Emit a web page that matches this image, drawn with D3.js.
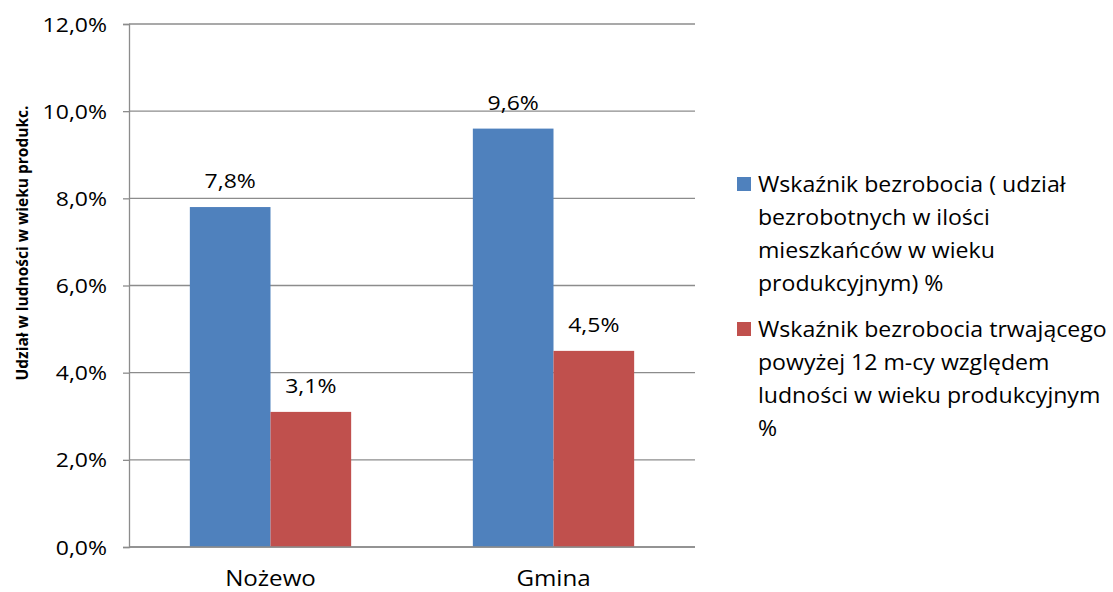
<!DOCTYPE html>
<html><head><meta charset="utf-8">
<script src="https://cdn.jsdelivr.net/npm/d3@7"></script>
<style>body{margin:0;background:#fff}svg{display:block}text{font-family:"Open Sans",sans-serif;fill:#000}</style>
</head><body>
<svg id="c" width="1113" height="592"></svg>
<script>
const categories = ["Nożewo", "Gmina"];
const seriesNames = [
  ["Wskaźnik bezrobocia ( udział", "bezrobotnych w ilości", "mieszkańców w wieku", "produkcyjnym) %"],
  ["Wskaźnik bezrobocia trwającego", "powyżej 12 m-cy względem", "ludności w wieku produkcyjnym", "%"]
];
const seriesA = [7.8, 9.6];
const seriesB = [3.1, 4.5];
const yTicks = [0, 2, 4, 6, 8, 10, 12];
const colors = ["#4f81bd", "#c0504d"];
const yTitle = "Udział w ludności w wieku produkc.";

const SX = 1.15; // horizontal stretch of the text in the reference
const svg = d3.select("#c");
const L = 129, R = 695, T = 24, B = 547;
const x = d3.scaleBand().domain(categories).range([L, R]).paddingInner(0.43).paddingOuter(0.215);
const xs = d3.scaleBand().domain([0, 1]).range([0, x.bandwidth()]);
const y = d3.scaleLinear().domain([0, 12]).range([B, T]);
const fmt = v => v.toFixed(1).replace(".", ",") + "%";
const place = (sel, fx, fy) => sel.attr("transform", (d, i) => `translate(${fx(d, i)},${fy(d, i)}) scale(${SX},1)`);

// gridlines
svg.append("g").selectAll("line").data(yTicks).join("line")
  .attr("x1", L).attr("x2", R).attr("y1", d => y(d)).attr("y2", d => y(d))
  .attr("stroke", "#8c8c8c").attr("stroke-width", 1.3);

// y axis
const yAxis = svg.append("g").attr("transform", `translate(${L},0)`)
  .call(d3.axisLeft(y).tickValues(yTicks).tickFormat(fmt).tickSize(6).tickPadding(16));
yAxis.select(".domain").attr("stroke", "#8c8c8c").attr("stroke-width", 1.3);
yAxis.selectAll(".tick line").attr("stroke", "#8c8c8c").attr("stroke-width", 1.3);
yAxis.selectAll(".tick text").attr("font-size", 20).attr("font-family", "'Open Sans', sans-serif")
  .attr("fill", "#000").attr("x", null).attr("dy", "0.35em")
  .attr("transform", `translate(-22,0) scale(${SX},1)`);

// bars
const data = categories.map((c, i) => ({c, vals: [seriesA[i], seriesB[i]]}));
const g = svg.append("g").selectAll("g").data(data).join("g")
  .attr("transform", d => `translate(${x(d.c)},0)`);
g.selectAll("rect").data(d => d.vals.map((v, k) => ({v, k}))).join("rect")
  .attr("x", d => xs(d.k)).attr("width", xs.bandwidth())
  .attr("y", d => y(d.v)).attr("height", d => y(0) - y(d.v))
  .attr("fill", d => colors[d.k]);
place(g.selectAll("text").data(d => d.vals.map((v, k) => ({v, k}))).join("text"),
    d => xs(d.k) + xs.bandwidth() / 2, d => y(d.v) - 19)
  .attr("text-anchor", "middle").attr("font-size", 20).text(d => fmt(d.v));

// x axis line over bars
svg.append("line").attr("x1", L).attr("x2", R).attr("y1", B).attr("y2", B)
  .attr("stroke", "#8c8c8c").attr("stroke-width", 1.3);

// category labels
place(svg.append("g").selectAll("text").data(categories).join("text"),
    d => x(d) + x.bandwidth() / 2, () => 586)
  .attr("text-anchor", "middle").attr("font-size", 21).text(d => d);

// y title
svg.append("text").attr("transform", "translate(28,243) rotate(-90)")
  .attr("text-anchor", "middle").attr("font-size", 15.5).attr("font-weight", "bold").text(yTitle);

// legend
const legTop = [192, 337];
const lg = svg.append("g").selectAll("g").data(seriesNames).join("g")
  .attr("transform", (d, i) => `translate(737,${legTop[i]})`);
lg.append("rect").attr("x", 0).attr("y", -15).attr("width", 14).attr("height", 14)
  .attr("fill", (d, i) => colors[i]);
lg.append("text").attr("transform", `translate(21,0) scale(1.1,1)`).attr("font-size", 21)
  .selectAll("tspan").data(d => d).join("tspan")
  .attr("x", 0).attr("dy", (d, i) => i === 0 ? 0 : 33).text(d => d);
</script>
</body></html>
